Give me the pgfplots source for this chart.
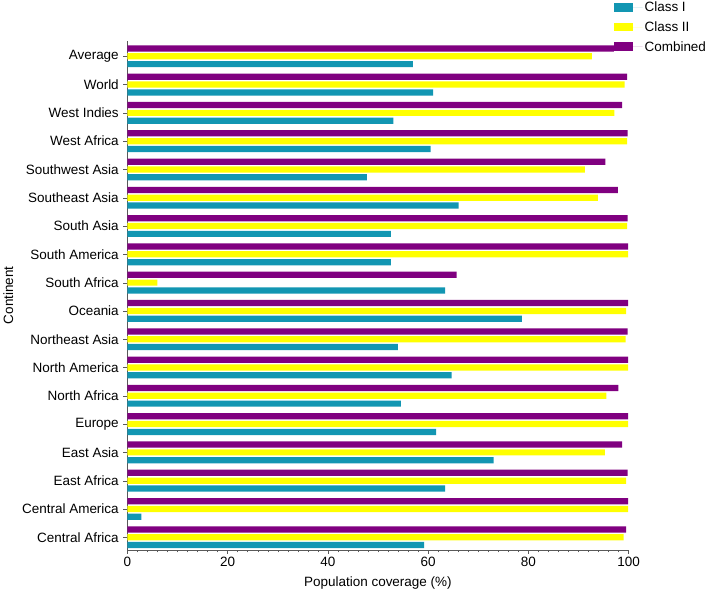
\documentclass[border=0pt]{standalone}
\usepackage{pgfplots}
\pgfplotsset{compat=1.18}
\usepackage{fontspec}
\setmainfont{Liberation Sans}

\definecolor{clsone}{RGB}{18,150,178}
\definecolor{clstwo}{RGB}{255,255,0}
\definecolor{comb}{RGB}{128,0,128}

% y = 0 is Central Africa (bottom), y = 17 is Average (top)
\pgfplotstableread{
y  c1    c2    cb
0  59.2  99.0  99.5
1  2.8   99.9  99.9
2  63.4  99.5  99.8
3  73.1  95.3  98.7
4  61.6  99.9  99.9
5  54.6  95.6  98.0
6  64.7  99.9  99.9
7  54.0  99.4  99.8
8  78.7  99.5  99.9
9  63.4  6.0   65.7
10 52.6  99.9  99.9
11 52.6  99.7  99.8
12 66.1  93.9  97.9
13 47.8  91.3  95.4
14 60.5  99.7  99.8
15 53.1  97.2  98.7
16 61.0  99.2  99.7
17 57.0  92.7  97.1
}\datatable

\begin{document}
\begin{tikzpicture}
\begin{axis}[
    scale only axis,
    width=500bp, height=508bp,
    xbar=1.6bp,
    bar width=6.2bp,
    xmin=0, xmax=100,
    ymin=-0.45, ymax=17.55,
    axis x line*=bottom,
    axis y line*=left,
    axis line style={gray!70!black},
    xtick={0,20,40,60,80,100},
    minor x tick num=9,
    ytick={0,...,17},
    yticklabels={Central Africa,Central America,East Africa,East Asia,Europe,North Africa,North America,Northeast Asia,Oceania,South Africa,South America,South Asia,Southeast Asia,Southwest Asia,West Africa,West Indies,World,Average},
    tick align=outside,
    tick style={gray!70!black},
    major tick length=4bp,
    minor tick length=2.5bp,
    tick label style={font=\fontsize{13.5}{15}\selectfont},
    yticklabel style={xshift=-1bp},
    /pgf/number format/assume math mode=true,
    xlabel={Population coverage (\%)},
    ylabel={Continent},
    label style={font=\fontsize{13.5}{15}\selectfont},
    xlabel style={yshift=-3bp},
    ylabel style={yshift=2bp},
    legend style={
        at={(0.972,1.080)}, anchor=north west,
        draw=none, fill=none,
        inner sep=0pt, outer sep=0pt,
        font=\fontsize{13.5}{15}\selectfont,
        row sep=4.4bp,
        cells={anchor=west},
    },
    legend image code/.code={
        \fill[#1] (0bp,-4bp) rectangle (18bp,4.5bp);
        \path (0bp,0bp) -- (28bp,0bp);
    },
    clip=false,
]
\addplot[fill=clsone, draw=none] table[x=c1, y=y] {\datatable};
\addlegendentry{Class I}
\addplot[fill=clstwo, draw=none] table[x=c2, y=y] {\datatable};
\addlegendentry{Class II}
\addplot[fill=comb, draw=none] table[x=cb, y=y] {\datatable};
\addlegendentry{Combined}
% keep the white margin below the axis label
\path (rel axis cs:0,0) -- ++(0bp,-46bp);
\end{axis}
\end{tikzpicture}
\end{document}
